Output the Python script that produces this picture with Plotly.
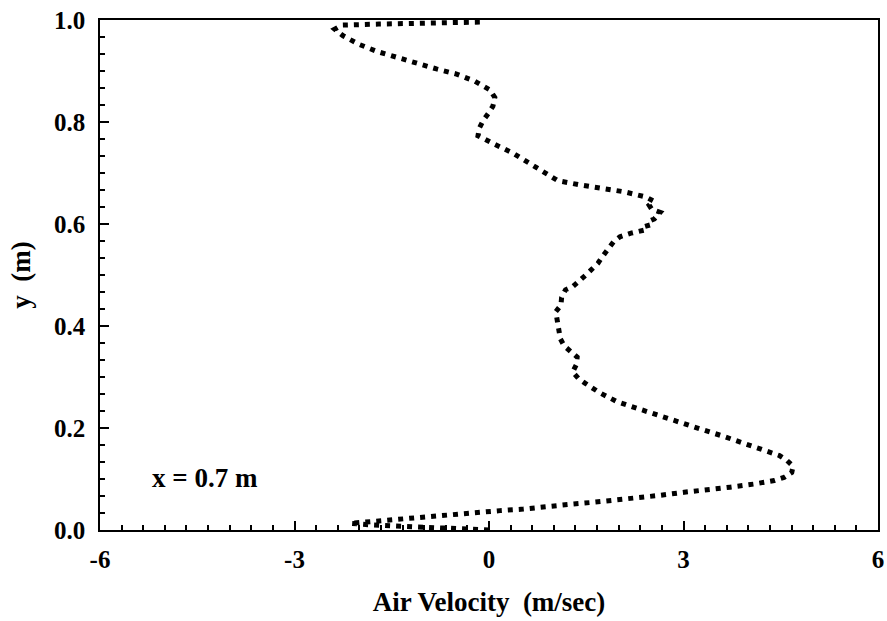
import plotly.graph_objects as go

# Air velocity profile at x = 0.7 m (ordered from y=0 upward along the curve)
velocity = [
    0.0, -0.34, -0.71, -1.06, -1.42, -1.79, -2.14, -1.96, -1.79, -1.60, -1.25, -0.91, -0.55, -0.19,
    0.17, 0.53, 0.86, 1.22, 1.58, 1.94, 2.28, 2.64, 3.01, 3.37, 3.72, 4.08, 4.40, 4.55, 4.67, 4.69,
    4.59, 4.48, 4.20, 3.90, 3.61, 3.31, 2.99, 2.84, 2.54, 2.25, 1.97, 1.71, 1.48, 1.38, 1.29, 1.35,
    1.36, 1.26, 1.16, 1.10, 1.07, 1.04, 1.03, 1.11, 1.12, 1.18, 1.30, 1.51, 1.68, 1.75, 1.84, 1.92,
    2.02, 2.19, 2.46, 2.43, 2.55, 2.64, 2.51, 2.47, 2.54, 2.42, 2.09, 1.74, 1.39, 1.06, 0.82, 0.58,
    0.37, 0.09, -0.17, -0.15, -0.09, -0.01, 0.06, 0.09, 0.015, -0.22, -0.50, -0.81, -1.11, -1.41,
    -1.72, -2.00, -2.25, -2.38, -2.27, -1.70, -1.00, -0.10,
]
height = [
    0.0, 0.0015, 0.004, 0.005, 0.007, 0.0098, 0.013, 0.015, 0.018, 0.019, 0.023, 0.028, 0.031, 0.034,
    0.038, 0.041, 0.046, 0.050, 0.054, 0.058, 0.062, 0.068, 0.074, 0.078, 0.084, 0.090, 0.097, 0.103, 0.113, 0.125,
    0.137, 0.146, 0.159, 0.171, 0.184, 0.196, 0.210, 0.216, 0.229, 0.240, 0.252, 0.269, 0.288, 0.297, 0.310, 0.325,
    0.339, 0.350, 0.361, 0.375, 0.394, 0.410, 0.428, 0.441, 0.456, 0.471, 0.478, 0.502, 0.523, 0.536, 0.550, 0.565,
    0.575, 0.582, 0.590, 0.603, 0.610, 0.623, 0.629, 0.637, 0.645, 0.653, 0.663, 0.669, 0.677, 0.685, 0.703, 0.721,
    0.739, 0.756, 0.773, 0.788, 0.803, 0.817, 0.831, 0.848, 0.863, 0.880, 0.894, 0.904, 0.916, 0.926,
    0.938, 0.952, 0.969, 0.982, 0.990, 0.992, 0.993, 0.996,
]

x_tick_vals = [-6, -3, 0, 3, 6]
x_tick_text = ["-6", "-3", "0", "3", "6"]
y_tick_vals = [0.0, 0.2, 0.4, 0.6, 0.8, 1.0]
y_tick_text = ["0.0", "0.2", "0.4", "0.6", "0.8", "1.0"]

FONT = "Liberation Serif"

fig = go.Figure()
fig.add_trace(go.Scatter(
    x=velocity, y=height, mode="lines",
    line=dict(color="black", width=5, dash="5px,6px"),
    showlegend=False,
))

fig.add_annotation(
    x=-4.38, y=0.102, xref="x", yref="y", text="x = 0.7 m", showarrow=False,
    font=dict(family=FONT, size=27, color="black", weight="bold"),
)

tick_font = dict(family=FONT, size=25, color="black", weight="bold")
title_font = dict(family=FONT, size=27, color="black", weight="bold")

fig.update_layout(
    width=887, height=621,
    margin=dict(l=100, r=9, t=20, b=91),
    paper_bgcolor="white", plot_bgcolor="white",
    xaxis=dict(
        range=[-6, 6], tickvals=x_tick_vals, ticktext=x_tick_text,
        showgrid=False, zeroline=False,
        showline=True, linecolor="black", linewidth=1.5, mirror=True,
        ticks="inside", ticklen=9, tickwidth=1.5, tickcolor="black",
        minor=dict(dtick=1/3, tick0=-6, ticks="inside", ticklen=5, tickwidth=1.5, tickcolor="black", showgrid=False),
        tickfont=tick_font, ticklabelstandoff=6,
        title=dict(text="Air Velocity  (m/sec)", font=title_font, standoff=20),
        automargin=False,
    ),
    yaxis=dict(
        range=[0, 1], tickvals=y_tick_vals, ticktext=y_tick_text,
        showgrid=False, zeroline=False,
        showline=True, linecolor="black", linewidth=1.5, mirror=True,
        ticks="inside", ticklen=9, tickwidth=1.5, tickcolor="black",
        minor=dict(dtick=0.2/6, tick0=0, ticks="inside", ticklen=5, tickwidth=1.5, tickcolor="black", showgrid=False),
        tickfont=tick_font, ticklabelstandoff=8,
        title=dict(text="y  (m)", font=title_font, standoff=16),
        automargin=False,
    ),
)

fig.write_html("out.html")
